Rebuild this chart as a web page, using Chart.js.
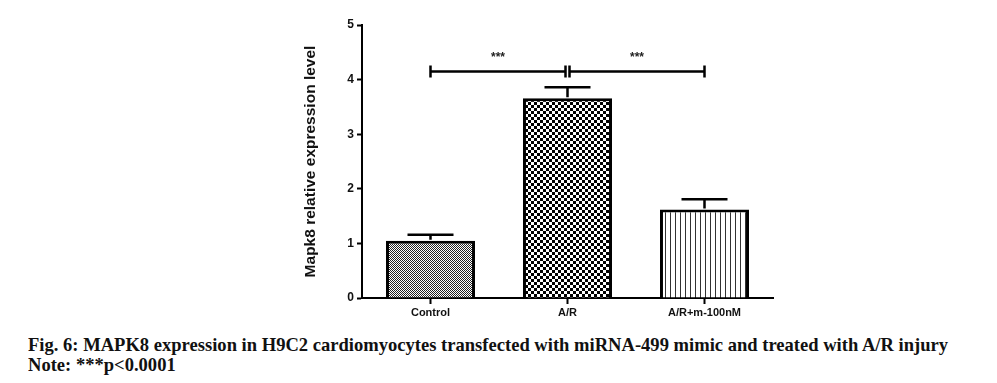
<!DOCTYPE html>
<html>
<head>
<meta charset="utf-8">
<script src="https://cdn.jsdelivr.net/npm/chart.js@4.4.1/dist/chart.umd.min.js"></script>
<style>
  body { margin: 0; background: #fff; width: 997px; height: 383px; overflow: hidden; position: relative; }
  #wrap { position: absolute; left: 0; top: 0; width: 997px; height: 330px; }
  .cap { position: absolute; left: 28px; font-family: "Liberation Serif", "Times New Roman", serif; font-weight: bold; font-size: 19px; color: #111; white-space: nowrap; transform-origin: left top; }
</style>
</head>
<body>
<div id="wrap"><canvas id="grafico"></canvas></div>
<div class="cap" id="cap1" style="top:334px">Fig. 6: MAPK8 expression in H9C2 cardiomyocytes transfected with miRNA-499 mimic and treated with A/R injury</div>
<div class="cap" id="cap2" style="top:354px">Note: ***p&lt;0.0001</div>
<script>
// dados
const grupos = ['Control', 'A/R', 'A/R+m-100nM'];
const medias = [1.05, 3.66, 1.62];
const erros = [0.11, 0.20, 0.19];
const yTicks = [0, 1, 2, 3, 4, 5];
// comparacoes: [grupo a, grupo b, altura, texto]
const comparacoes = [[0, 1, 4.15, '***'], [1, 2, 4.15, '***']];
const alturaEstrelas = 4.4;

// ajusta a largura da legenda
let cap1 = document.getElementById('cap1');
let w = cap1.getBoundingClientRect().width;
let fator = 920 / w;
cap1.style.transform = 'scaleX(' + fator + ')';
document.getElementById('cap2').style.transform = 'scaleX(' + fator + ')';

function padrao(tipo) {
    let c = document.createElement('canvas');
    let ctx = c.getContext('2d');
    if (tipo == 'fino') {
        c.width = 2; c.height = 2;
        ctx.fillStyle = '#fff'; ctx.fillRect(0, 0, 2, 2);
        ctx.fillStyle = '#222'; ctx.fillRect(0, 0, 1, 1); ctx.fillRect(1, 1, 1, 1);
    } else if (tipo == 'xadrez') {
        c.width = 6; c.height = 6;
        ctx.fillStyle = '#fff'; ctx.fillRect(0, 0, 6, 6);
        ctx.fillStyle = '#000'; ctx.fillRect(0, 0, 3, 3); ctx.fillRect(3, 3, 3, 3);
    } else {
        c.width = 5; c.height = 5;
        ctx.fillStyle = '#fff'; ctx.fillRect(0, 0, 5, 5);
        ctx.fillStyle = '#333'; ctx.fillRect(0, 0, 1, 5);
    }
    return ctx.createPattern(c, 'repeat');
}

const barrasErro = {
    id: 'barrasErro',
    afterDatasetsDraw(chart) {
        let ctx = chart.ctx;
        let y = chart.scales.y;
        let meta = chart.getDatasetMeta(0);
        ctx.save();
        ctx.strokeStyle = '#000';
        ctx.lineWidth = 2.5;
        meta.data.forEach((bar, i) => {
            let topo = y.getPixelForValue(medias[i] + erros[i]);
            ctx.beginPath();
            ctx.moveTo(bar.x, bar.y - 1);
            ctx.lineTo(bar.x, topo);
            ctx.moveTo(bar.x - 23, topo);
            ctx.lineTo(bar.x + 23, topo);
            ctx.stroke();
        });
        // colchetes de significancia
        comparacoes.forEach(c => {
            let xa = meta.data[c[0]].x + (c[0] == 1 ? 2 : 0);
            let xb = meta.data[c[1]].x - (c[1] == 1 ? 2 : 0);
            let yy = y.getPixelForValue(c[2]);
            ctx.beginPath();
            ctx.moveTo(xa, yy); ctx.lineTo(xb, yy);
            ctx.moveTo(xa, yy - 6); ctx.lineTo(xa, yy + 6);
            ctx.moveTo(xb, yy - 6); ctx.lineTo(xb, yy + 6);
            ctx.stroke();
            ctx.fillStyle = '#222';
            ctx.font = 'bold 12px Arial';
            ctx.textAlign = 'center';
            ctx.textBaseline = 'middle';
            ctx.fillText(c[3], (xa + xb) / 2, y.getPixelForValue(alturaEstrelas));
        });
        ctx.restore();
    }
};

new Chart(document.getElementById('grafico'), {
    type: 'bar',
    data: {
        labels: grupos,
        datasets: [{
            data: medias,
            backgroundColor: [padrao('fino'), padrao('xadrez'), padrao('linhas')],
            borderColor: '#000',
            borderWidth: 3,
            borderSkipped: 'bottom',
            categoryPercentage: 0.65,
            barPercentage: 1.0
        }]
    },
    options: {
        responsive: true,
        maintainAspectRatio: false,
        animation: false,
        layout: { padding: { left: 298, right: 224, top: 25, bottom: 0 } },
        plugins: { legend: { display: false }, tooltip: { enabled: false } },
        scales: {
            x: {
                grid: { display: true, drawOnChartArea: false, offset: false, tickLength: 6, tickColor: '#000', tickWidth: 2 },
                border: { color: '#000', width: 2 },
                ticks: { color: '#111', font: { family: 'Arial', weight: 'bold', size: 11 }, padding: 2 },
                afterFit(s) { s.height = 32; }
            },
            y: {
                min: 0,
                max: 5,
                afterBuildTicks(s) { s.ticks = yTicks.map(v => ({ value: v })); },
                grid: { display: true, drawOnChartArea: false, tickLength: 5, tickColor: '#000', tickWidth: 2 },
                border: { color: '#000', width: 2 },
                ticks: { color: '#111', font: { family: 'Arial', weight: 'bold', size: 12 }, padding: 3 },
                title: { display: true, text: 'Mapk8 relative expression level', color: '#111', font: { family: 'Arial', weight: 'bold', size: 15.5 }, padding: { top: 3, bottom: 0 } },
                afterFit(s) { s.width = 64; }
            }
        }
    },
    plugins: [barrasErro]
});
</script>
</body>
</html>
